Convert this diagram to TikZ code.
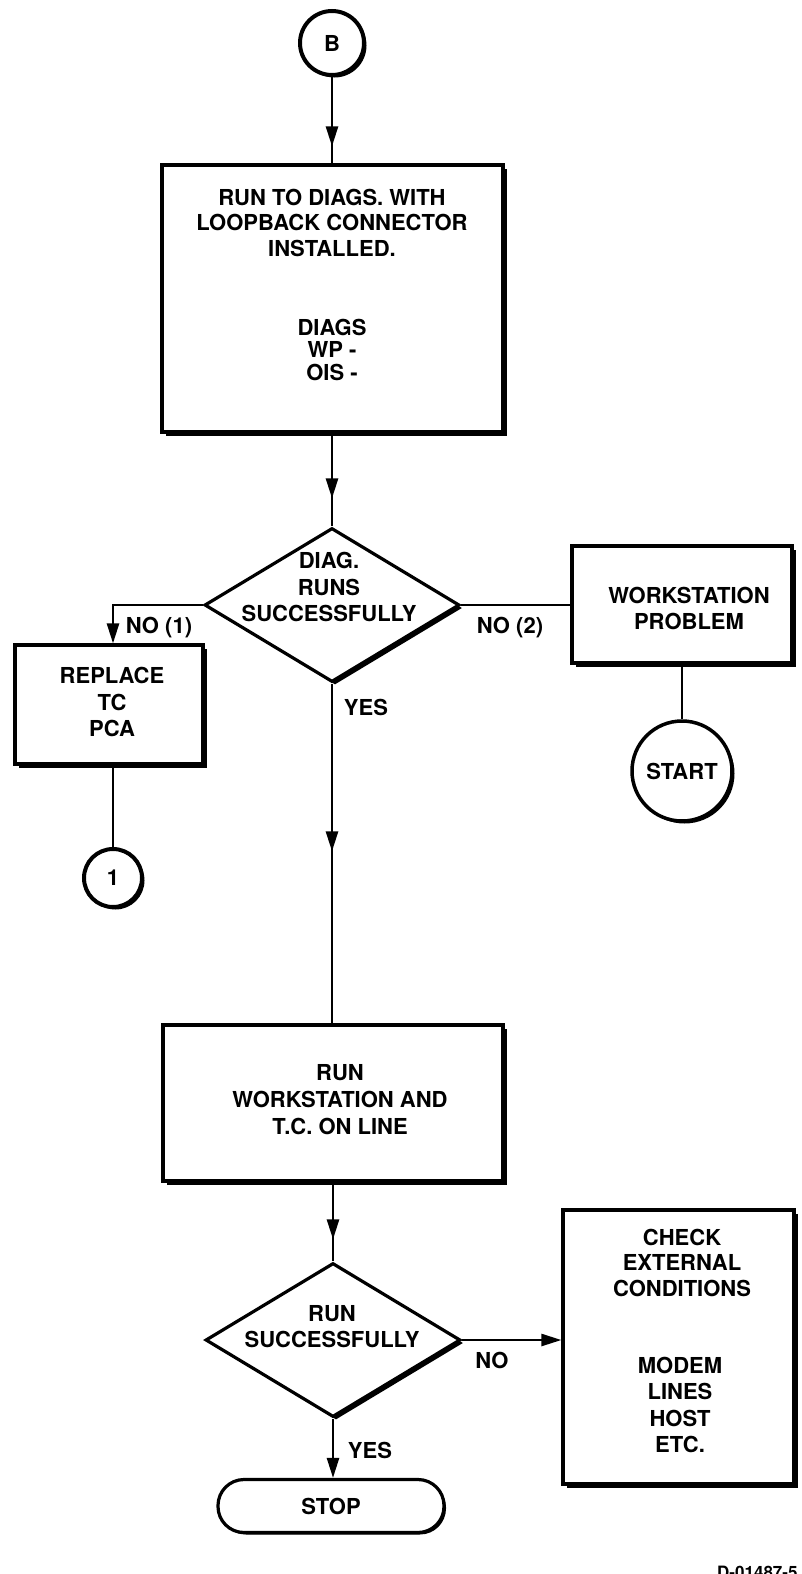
\documentclass[tikz,border=0pt]{standalone}
\usepackage{fontspec}
\setmainfont{TeX Gyre Heros}
\usetikzlibrary{shapes.geometric,shadows,arrows.meta,decorations.markings}
\newcommand\myfont[1]{\fontsize{22}{#1}\selectfont\bfseries}
\begin{document}
\begin{tikzpicture}[x=1pt,y=-1pt,
  shad/.style={drop shadow={shadow xshift=#1, shadow yshift=-#1, fill=black, opacity=1}},
  shad/.default=3.5pt,
  boxnode/.style={draw, line width=3.2pt, fill=white, inner sep=0pt, shad},
  decnode/.style={diamond, draw, line width=3.2pt, fill=white, inner sep=0pt,
     minimum width=255pt, minimum height=154pt, shad=3pt},
  conn/.style={circle, draw, line width=4pt, fill=white, inner sep=0pt, shad=2.5pt},
  txt/.style={align=center, inner sep=0pt, font=\myfont{#1}},
  txt/.default=26pt,
  link/.style={line width=2.5pt},
  tip/.style={-{Triangle[width=12pt,length=20pt]}},
  midarrow/.style={postaction={decorate}, decoration={markings,
     mark=at position -#1 with {\arrow{Triangle[width=12pt,length=20pt]}}}}
]
\useasboundingbox (0,0) rectangle (801,1574);

% ---------- shapes ----------
\node[conn, minimum size=64pt] (B) at (332,43) {};
\node[boxnode, minimum width=341pt, minimum height=267pt] (box1) at (332.5,298.5) {};
\node[decnode] (d1) at (332,605) {};
\node[boxnode, minimum width=188pt, minimum height=119pt] (rep) at (109,704.5) {};
\node[conn, minimum size=58pt] (c1) at (113,878) {};
\node[boxnode, minimum width=220pt, minimum height=117pt] (ws) at (682,604.5) {};
\node[conn, line width=3.5pt, minimum size=100pt] (start) at (682,771) {};
\node[boxnode, minimum width=340pt, minimum height=156pt] (box2) at (333,1103) {};
\node[decnode] (d2) at (333,1340) {};
\node[boxnode, minimum width=231pt, minimum height=274pt] (chk) at (678.5,1347) {};
\node[draw, line width=3.2pt, fill=white, rounded corners=26pt, inner sep=0pt,
      minimum width=226pt, minimum height=53pt, shad=2pt] (stop) at (331,1506) {};

% ---------- texts ----------
\node[txt] (tB) at (B) {B};
\node[txt=25.5pt] (t1a) at (332,222.5) {RUN TO DIAGS. WITH\\LOOPBACK CONNECTOR\\INSTALLED.};
\node[txt=22.5pt] (t1b) at (332,349.5) {DIAGS\\WP -\\OIS -};
\node[txt=26.5pt] (td1) at (329,587) {DIAG.\\RUNS\\SUCCESSFULLY};
\node[txt] (tno1) at (159,628) {NO (1)};
\node[txt=26.5pt] (trep) at (112,702) {REPLACE\\TC\\PCA};
\node[txt] (tc1) at (c1) {1};
\node[txt] (tno2) at (510,628) {NO (2)};
\node[txt] (tws) at (689,608.5) {WORKSTATION\\PROBLEM};
\node[txt] (tstart) at (start) {START};
\node[txt] (tyes1) at (366,707) {YES};
\node[txt=27pt] (tb2) at (340,1100) {RUN\\WORKSTATION AND\\T.C. ON LINE};
\node[txt] (td2) at (332,1327) {RUN\\SUCCESSFULLY};
\node[txt] (tno3) at (492,1360) {NO};
\node[txt=25.5pt] (tchk) at (682,1262.5) {CHECK\\EXTERNAL\\CONDITIONS};
\node[txt=26.2pt] (tmod) at (680,1405) {MODEM\\LINES\\HOST\\ETC.};
\node[txt] (tyes2) at (370,1450) {YES};
\node[txt] (tstop) at (stop) {STOP};
\node[inner sep=0pt, anchor=north west, font=\fontsize{17}{20}\selectfont\bfseries] (code) at (717,1566) {D-01487-5};

% ---------- connectors ----------
\draw[link, midarrow=17pt] (B.south) -- (B.south |- box1.north);
\draw[link, midarrow=28pt] (box1.south -| d1.north) -- (d1.north);
\draw[link, tip] (d1.west) -| (rep.north -| c1.north);
\draw[link] (rep.south -| c1.north) -- (c1.north);
\draw[link] (d1.east) -- (d1.east -| ws.west);
\draw[link] (ws.south -| start.north) -- (start.north);
\draw[link, midarrow=172pt] (d1.south) -- (d1.south |- box2.north);
\draw[link, midarrow=22pt] (box2.south -| d2.north) -- (d2.north);
\draw[link, tip] (d2.east) -- (d2.east -| chk.west);
\draw[link, tip] (d2.south) -- (d2.south |- stop.north);
\end{tikzpicture}
\end{document}
